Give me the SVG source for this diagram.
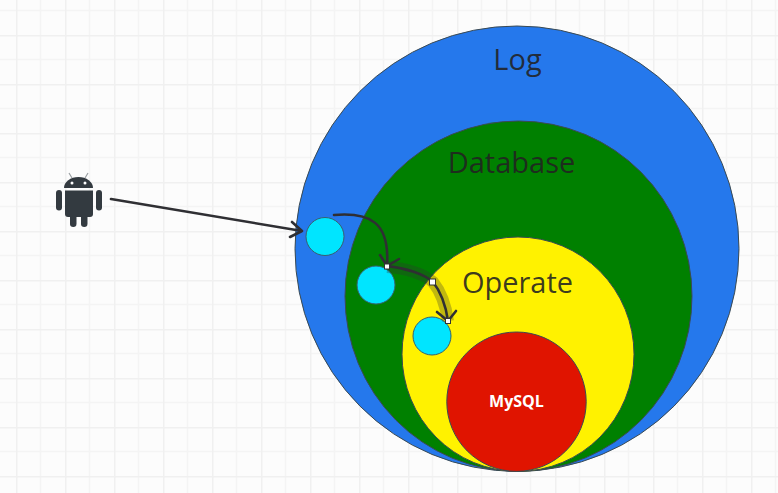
<svg xmlns="http://www.w3.org/2000/svg" width="778" height="493" viewBox="0 0 778 493">
<style>
.big{stroke:#3b4a52;stroke-width:1}
.dot{fill:#00e5ff;stroke:#37606e;stroke-width:1}
.lbl{font-family:"Open Sans","Noto Sans",sans-serif;font-size:29px;fill:#222;fill-opacity:.88;text-anchor:middle}
.conn{fill:none;stroke:#2f2f33;stroke-width:2.600;stroke-linecap:round;stroke-linejoin:round}
.handle{fill:#fff;stroke:#333;stroke-width:1}
.bot{fill:#333a40}
</style>
<defs>
<pattern id="grid" width="49" height="49" patternUnits="userSpaceOnUse" x="16" y="35">
<path d="M24.500 0V49M0 24.500H49" stroke="#f4f4f4" stroke-width="1.500" fill="none"/>
<path d="M0 0V49M0 0H49" stroke="#f0f0f0" stroke-width="3" fill="none"/>
</pattern>
</defs>
<rect width="778" height="493" fill="#fcfcfc"/>
<rect width="778" height="493" fill="url(#grid)"/>
<g id="log"><ellipse class="big" cx="517" cy="248.700" rx="222" ry="222.700" fill="#2578ec"/><text class="lbl" x="517.500" y="70">Log</text></g>
<g id="database"><ellipse class="big" cx="518.500" cy="296.200" rx="173.500" ry="175.200" fill="#008000"/><text class="lbl" x="511.500" y="173">Database</text></g>
<g id="operate"><ellipse class="big" cx="518" cy="354.200" rx="116" ry="117.200" fill="#fff200"/><text class="lbl" x="517.500" y="293">Operate</text></g>
<g id="mysql"><circle class="big" cx="516.500" cy="401.700" r="69.700" fill="#e01400"/><text x="516.500" y="407" font-family="'Open Sans','Noto Sans',sans-serif" font-size="16" font-weight="700" fill="#fff" text-anchor="middle">MySQL</text></g>
<g id="android">
<path class="bot" d="M64 188a14.500 11 0 0 1 29 0Z"/>
<path d="M72 178l-3-5M85 178l3-5" stroke="#9a9fa3" stroke-width="1.200" fill="none"/>
<circle cx="72" cy="183" r="1.500" fill="#fff"/><circle cx="85" cy="183" r="1.500" fill="#fff"/>
<path class="bot" d="M65 190.500H93V214a3 3 0 0 1-3 3H68a3 3 0 0 1-3-3Z"/>
<rect class="bot" x="56" y="190" width="6" height="20.500" rx="3"/>
<rect class="bot" x="96" y="190" width="6" height="20.500" rx="3"/>
<rect class="bot" x="70" y="214" width="6.500" height="13" rx="3.200"/>
<rect class="bot" x="81" y="214" width="6.500" height="13" rx="3.200"/>
</g>
<g id="node-a"><circle class="dot" cx="325" cy="236.500" r="19"/></g>
<g id="node-b"><circle class="dot" cx="376" cy="285" r="19"/></g>
<g id="node-c"><circle class="dot" cx="432" cy="336" r="19"/></g>
<g id="connectors">
<path d="M387 267C406 268 424 274 433 282C441 292 446 307 448 321" fill="none" stroke="#333" stroke-opacity=".3" stroke-width="12"/>
<path class="conn" d="M111 199L302 231M292 222L302 231L290 237"/>
<path class="conn" d="M334 215C370 212 390 222 387 266M380 255L387 266L399 259"/>
<path class="conn" d="M387 266C406 268 424 274 433 282C441 292 446 307 448 321M437 312L448 321L456 311"/>
<rect class="handle" x="384.500" y="264" width="5" height="5"/>
<rect class="handle" x="429.500" y="279" width="6" height="6"/>
<rect class="handle" x="445.500" y="318.500" width="5" height="5"/>
</g>
</svg>
